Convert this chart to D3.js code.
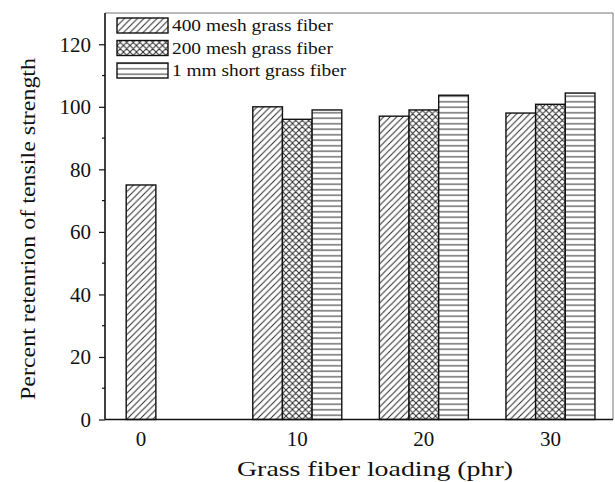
<!DOCTYPE html>
<html>
<head>
<meta charset="utf-8">
<script src="https://cdn.jsdelivr.net/npm/d3@7/dist/d3.min.js"></script>
<style>
  html, body { margin: 0; padding: 0; background: #fff; }
  svg { display: block; font-family: "Liberation Serif", "Times New Roman", serif; }
</style>
</head>
<body>
<svg id="chart" width="615" height="482"></svg>
<script>
// Fiber loading levels (phr)
const loadings = ["0", "10", "20", "30"];
// Series names
const seriesNames = ["400 mesh grass fiber", "200 mesh grass fiber", "1 mm short grass fiber"];
// Percent retention of tensile strength per series, one value per loading (null = not measured)
const mesh400 = [75, 100, 97, 98];
const mesh200 = [null, 96, 99, 100.8];
const shortFiber = [null, 99, 103.7, 104.4];
// Y axis tick values
const yTicks = [0, 20, 40, 60, 80, 100, 120];
const yMinorTicks = [10, 30, 50, 70, 90, 110];

const seriesValues = [mesh400, mesh200, shortFiber];
const patternIds = ["hatch-diag", "hatch-cross", "hatch-horiz"];

const svg = d3.select("#chart");
const plotLeft = 105, plotRight = 613, plotTop = 13, plotBottom = 419.5;

// Fill patterns
const defs = svg.append("defs");
const ink = "#2a2a2a";
{
  const p = defs.append("pattern").attr("id", "hatch-diag")
    .attr("patternUnits", "userSpaceOnUse").attr("width", 6.5).attr("height", 6.5);
  p.append("rect").attr("width", 6.5).attr("height", 6.5).attr("fill", "#fff");
  p.append("path").attr("d", "M-1,1 L1,-1 M0,6.5 L6.5,0 M5.5,7.5 L7.5,5.5")
    .attr("stroke", ink).attr("stroke-width", 1);
}
{
  const p = defs.append("pattern").attr("id", "hatch-cross")
    .attr("patternUnits", "userSpaceOnUse").attr("width", 6.5).attr("height", 6.5);
  p.append("rect").attr("width", 6.5).attr("height", 6.5).attr("fill", "#fff");
  p.append("path").attr("d", "M-1,1 L1,-1 M0,6.5 L6.5,0 M5.5,7.5 L7.5,5.5 M-1,5.5 L1,7.5 M0,0 L6.5,6.5 M5.5,-1 L7.5,1")
    .attr("stroke", ink).attr("stroke-width", 1);
}
{
  const p = defs.append("pattern").attr("id", "hatch-horiz")
    .attr("patternUnits", "userSpaceOnUse").attr("width", 6).attr("height", 5.5);
  p.append("rect").attr("width", 6).attr("height", 5.5).attr("fill", "#fff");
  p.append("line").attr("x1", 0).attr("x2", 6).attr("y1", 2.75).attr("y2", 2.75)
    .attr("stroke", ink).attr("stroke-width", 1);
}

// Scales
const x0 = d3.scaleBand().domain(loadings).range([plotLeft, plotRight])
  .paddingInner(0.297).paddingOuter(0.155).align(0.54);
const x1 = d3.scaleBand().domain(seriesNames).range([0, x0.bandwidth()]);
const y = d3.scaleLinear().domain([0, 130]).range([plotBottom, plotTop]);

// Frame (top and right edges)
svg.append("path")
  .attr("d", `M${plotLeft},${plotTop} H${plotRight} V${plotBottom}`)
  .attr("fill", "none").attr("stroke", "#777").attr("stroke-width", 1);

// Bars
seriesNames.forEach((name, si) => {
  const data = loadings.map((l, i) => ({ loading: l, value: seriesValues[si][i] }))
    .filter(d => d.value != null);
  svg.append("g").selectAll("rect").data(data).join("rect")
    .attr("x", d => x0(d.loading) + x1(name))
    .attr("y", d => y(d.value))
    .attr("width", x1.bandwidth())
    .attr("height", d => y(0) - y(d.value))
    .attr("fill", `url(#${patternIds[si]})`)
    .attr("stroke", "#111").attr("stroke-width", 1.4);
});

// Y axis
const yAxis = svg.append("g").attr("transform", `translate(${plotLeft},0)`)
  .call(d3.axisLeft(y).tickValues(yTicks).tickSize(6).tickPadding(8).tickFormat(d3.format("d")));
yAxis.select(".domain").remove();
yAxis.selectAll(".tick line").attr("stroke", "#111").attr("stroke-width", 1.2);
yAxis.selectAll(".tick text").attr("font-size", 21).attr("fill", "#111")
  .attr("font-family", "Liberation Serif, Times New Roman, serif");
svg.append("g").selectAll("line").data(yMinorTicks).join("line")
  .attr("x1", plotLeft - 3).attr("x2", plotLeft).attr("y1", d => y(d)).attr("y2", d => y(d))
  .attr("stroke", "#111").attr("stroke-width", 1.2);
svg.append("line").attr("x1", plotLeft).attr("x2", plotLeft).attr("y1", plotTop).attr("y2", plotBottom)
  .attr("stroke", "#111").attr("stroke-width", 1.6);

// X axis baseline and labels centred under each group's drawn bars
svg.append("line").attr("x1", plotLeft).attr("x2", plotRight).attr("y1", plotBottom).attr("y2", plotBottom)
  .attr("stroke", "#111").attr("stroke-width", 1.6);
const labelPos = loadings.map((l, i) => {
  const centers = seriesNames
    .filter((n, si) => seriesValues[si][i] != null)
    .map(n => x0(l) + x1(n) + x1.bandwidth() / 2);
  return { label: l, x: d3.mean(centers) };
});
svg.append("g").selectAll("text").data(labelPos).join("text")
  .attr("x", d => d.x).attr("y", 446)
  .attr("text-anchor", "middle").attr("font-size", 21).attr("fill", "#111")
  .text(d => d.label);

// Axis titles (typeset slightly wide)
svg.append("text").attr("x", 237).attr("y", 476)
  .attr("font-size", 21).attr("fill", "#111")
  .attr("textLength", 276).attr("lengthAdjust", "spacingAndGlyphs")
  .text("Grass fiber loading (phr)");
svg.append("text")
  .attr("transform", `translate(35,400) rotate(-90)`)
  .attr("font-size", 21).attr("fill", "#111")
  .attr("textLength", 342).attr("lengthAdjust", "spacingAndGlyphs")
  .text("Percent retenrion of tensile strength");

// Legend
const legend = svg.append("g");
seriesNames.forEach((name, si) => {
  const ly = 18 + si * 22.5;
  legend.append("rect").attr("x", 117).attr("y", ly).attr("width", 51).attr("height", 15)
    .attr("fill", `url(#${patternIds[si]})`).attr("stroke", "#111").attr("stroke-width", 1.4);
  legend.append("text").attr("transform", `translate(172,${ly + 13}) scale(1.14,1)`)
    .attr("font-size", 17).attr("fill", "#111").text(name);
});
</script>
</body>
</html>
